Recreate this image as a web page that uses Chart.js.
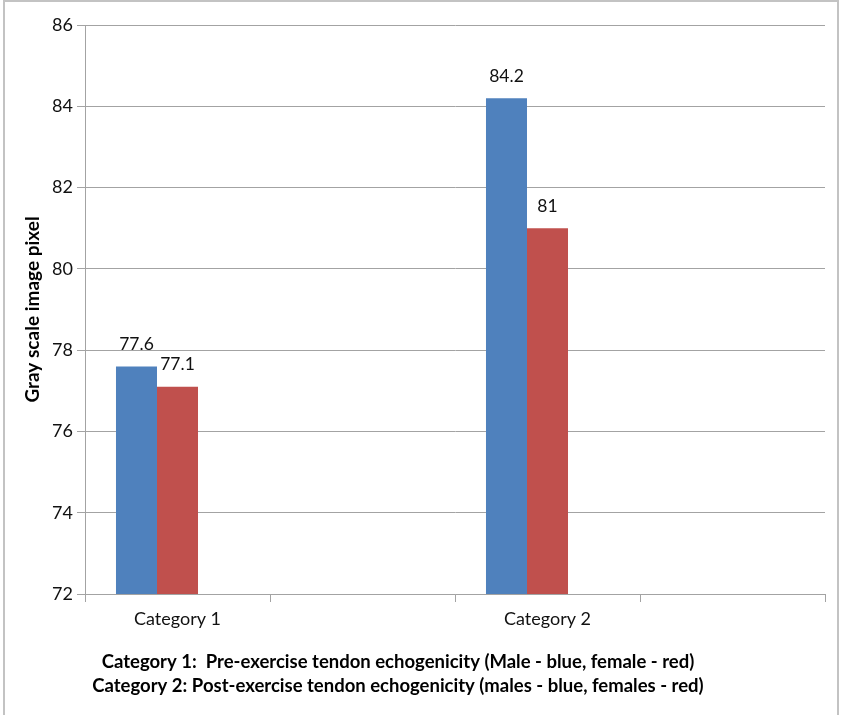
<!DOCTYPE html>
<html>
<head>
<meta charset="utf-8">
<script src="https://cdn.jsdelivr.net/npm/chart.js@4"></script>
<style>
  html, body { margin: 0; padding: 0; background: #fff; }
  #wrap { position: relative; width: 844px; height: 715px; overflow: hidden; }
  #frame { position: absolute; left: 3px; top: 0px; width: 836px; height: 730px; border: 2px solid #c3c3c3; box-sizing: border-box; }
  canvas { position: absolute; left: 0; top: 0; }
</style>
</head>
<body>
<div id="wrap">
  <div id="frame"></div>
  <canvas id="c" width="844" height="715"></canvas>
</div>
<script>
const categories = ['Category 1', '', 'Category 2', ''];
const maleValues = [77.6, null, 84.2, null];
const femaleValues = [77.1, null, 81, null];
const emptySeries = [null, null, null, null];
const yTicks = [72, 74, 76, 78, 80, 82, 84, 86];
const yTitle = 'Gray scale image pixel';
const captionLines = [
  'Category 1:  Pre-exercise tendon echogenicity (Male - blue, female - red)',
  'Category 2: Post-exercise tendon echogenicity (males - blue, females - red)'
];

const FONT = 'Lato, "Open Sans", sans-serif';
const GRID = '#a3a3a3';

const valueLabels = {
  id: 'valueLabels',
  afterDatasetsDraw(chart) {
    const ctx = chart.ctx;
    ctx.save();
    ctx.font = '17.5px ' + FONT;
    ctx.fillStyle = '#111';
    ctx.textAlign = 'center';
    ctx.textBaseline = 'middle';
    [0, 1].forEach(di => {
      const meta = chart.getDatasetMeta(di);
      meta.data.forEach((bar, i) => {
        const v = chart.data.datasets[di].data[i];
        if (v === null || v === undefined) return;
        ctx.fillText(String(v), bar.x, bar.y - 22);
      });
    });
    ctx.restore();
  }
};

const caption = {
  id: 'caption',
  afterDraw(chart) {
    const ctx = chart.ctx;
    ctx.save();
    ctx.font = 'bold 18.5px ' + FONT;
    ctx.fillStyle = '#000';
    ctx.textAlign = 'center';
    ctx.textBaseline = 'middle';
    ctx.fillText(captionLines[0], 398, 662);
    ctx.fillText(captionLines[1], 398, 686);
    ctx.restore();
  }
};

new Chart(document.getElementById('c'), {
  type: 'bar',
  data: {
    labels: categories,
    datasets: [
      { label: 'Male', data: maleValues, backgroundColor: '#4F81BD' },
      { label: 'Female', data: femaleValues, backgroundColor: '#C0504D' },
      { label: '', data: emptySeries, backgroundColor: '#9BBB59' }
    ]
  },
  options: {
    responsive: false,
    animation: false,
    devicePixelRatio: 1,
    barPercentage: 1,
    categoryPercentage: 0.665,
    layout: { padding: { top: 25, right: 19, left: 0, bottom: 0 } },
    plugins: {
      legend: { display: false },
      tooltip: { enabled: false },
      title: { display: false }
    },
    scales: {
      x: {
        grid: { display: true, drawOnChartArea: false, drawTicks: true, tickLength: 8, color: GRID, offset: true },
        border: { display: true, color: GRID },
        ticks: { font: { family: FONT, size: 18 }, color: '#111', padding: 6, maxRotation: 0, autoSkip: false },
        afterFit(scale) { scale.height = 121; }
      },
      y: {
        min: 72,
        max: 86,
        afterBuildTicks(scale) { scale.ticks = yTicks.map(v => ({ value: v })); },
        grid: { color: GRID, tickLength: 8, drawTicks: true },
        border: { display: true, color: GRID },
        ticks: { font: { family: FONT, size: 18 }, color: '#111', padding: 4 },
        title: { display: true, text: yTitle, font: { family: FONT, size: 19, weight: 'bold' }, color: '#000', padding: { top: 21, bottom: 0 } },
        afterFit(scale) { scale.width = 85; }
      }
    }
  },
  plugins: [valueLabels, caption]
});
</script>
</body>
</html>
